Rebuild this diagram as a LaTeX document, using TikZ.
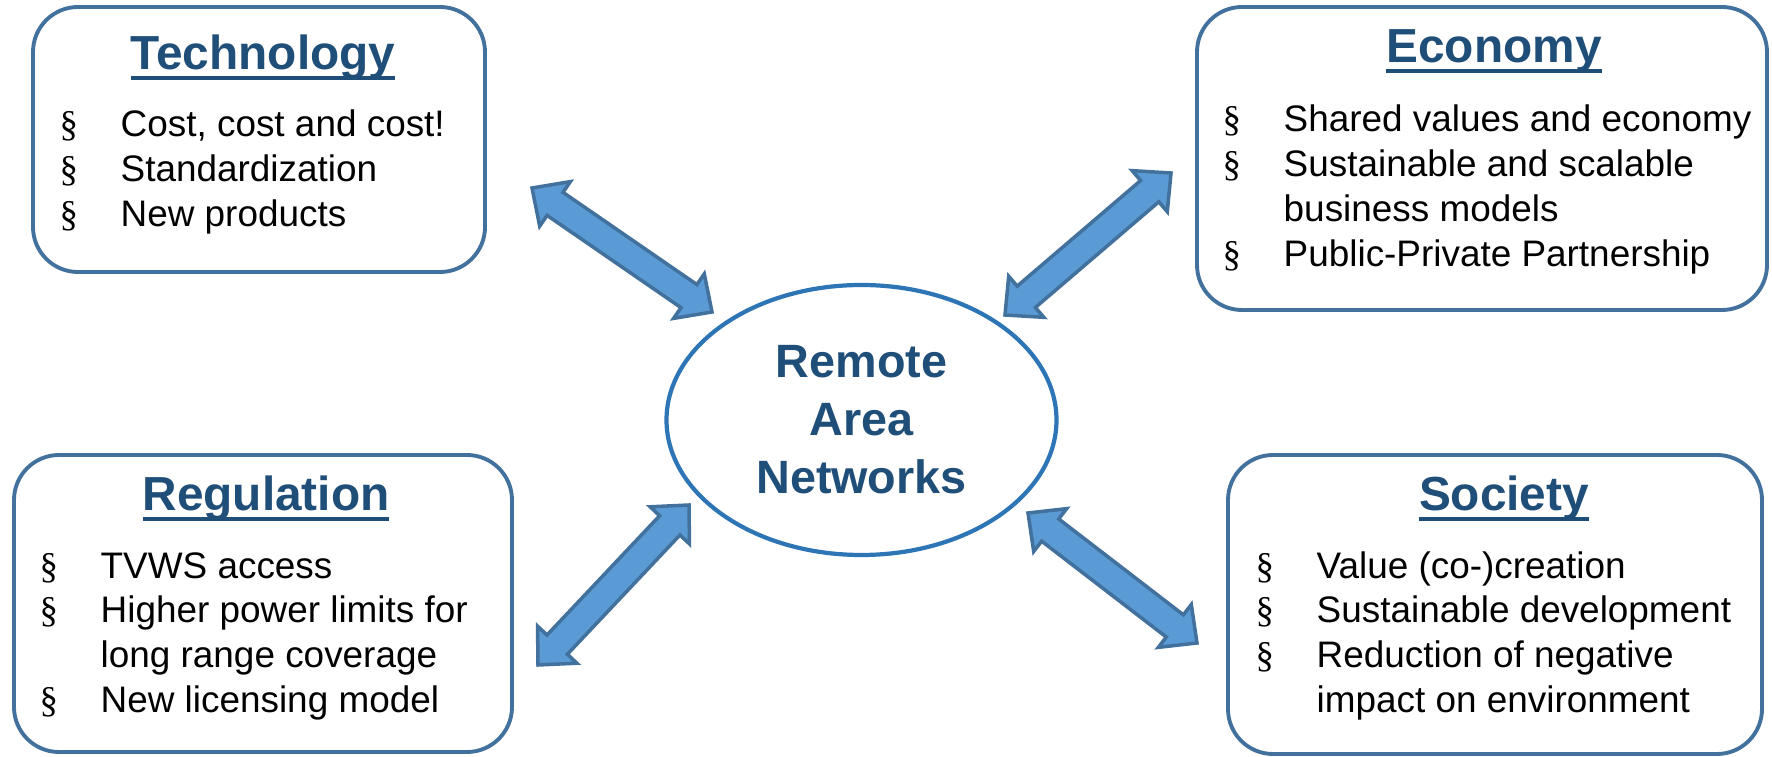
\documentclass[tikz,border=0pt]{standalone}
\usepackage{fontspec}
\setmainfont{Liberation Sans}
\newfontfamily\bulletfont{Liberation Serif}
\usetikzlibrary{calc,shapes.geometric}

\definecolor{boxline}{HTML}{41719C}
\definecolor{titleblue}{HTML}{1F4E79}
\definecolor{hubline}{HTML}{2E75B6}
\definecolor{arrowfill}{HTML}{5B9BD5}

\newcommand{\headline}[1]{\sbox0{#1}\rlap{\rule[-2.85pt]{\wd0}{1.1pt}}\usebox0}
\newcommand{\bul}{{\bulletfont\S}}
% block arrow with two heads between two named points
\newcommand{\twoway}[2]{%
	\draw[twoway] (#1) -- ($(#1)!0.389cm!44:(#2)$) -- ($(#1)!0.313cm!26.57:(#2)$)
	-- ($(#2)!0.313cm!-26.57:(#1)$) -- ($(#2)!0.389cm!-44:(#1)$) -- (#2)
	-- ($(#2)!0.389cm!44:(#1)$) -- ($(#2)!0.313cm!26.57:(#1)$)
	-- ($(#1)!0.313cm!-26.57:(#2)$) -- ($(#1)!0.389cm!-44:(#2)$) -- cycle;}

\tikzset{
	topicbox/.style={shape=rectangle, draw=boxline, line width=1.1pt,
		rounded corners=0.45cm, inner sep=0pt},
	topictitle/.style={anchor=base, inner sep=0pt, text=titleblue,
		font=\fontsize{13.6}{16}\selectfont\bfseries},
	topiclist/.style={anchor=base west, inner sep=0pt,
		font=\fontsize{10.5}{12.8}\selectfont},
	hub/.style={shape=ellipse, draw=hubline, line width=1.2pt, inner sep=0pt,
		align=center, text=titleblue, font=\fontsize{13.3}{16.5}\selectfont\bfseries},
	twoway/.style={draw=boxline, fill=arrowfill, line width=1pt}
}

\begin{document}
\begin{tikzpicture}
	\useasboundingbox (0, 0) rectangle (17.72, 7.56);
	% Centre ellipse:
	\node[hub, minimum width=3.9cm, minimum height=2.7cm]
	(RAN) at (8.615, 3.36){Remote\\Area\\Networks};
	
	% Technology, top left
	\node[topicbox, minimum width=4.52cm, minimum height=2.65cm]
	(Tech) at (2.59, 6.165){};
	\node[topictitle] (TechT) at (2.63, 6.86){\headline{Technology}};
	\node[topiclist] (TechL) at (0.59, 6.19){\begin{tabular}[t]{@{}p{0.61cm}@{}l@{}}
		\bul & Cost, cost and cost!\\
		\bul & Standardization\\
		\bul & New products
	\end{tabular}};
	
	% Economy, top right
	\node[topicbox, minimum width=5.7cm, minimum height=3.03cm]
	(Econ) at (14.82, 5.975){};
	\node[topictitle] (EconT) at (14.94, 6.93){\headline{Economy}};
	\node[topiclist] (EconL) at (12.22, 6.24){\begin{tabular}[t]{@{}p{0.61cm}@{}l@{}}
		\bul & Shared values and economy\\
		\bul & Sustainable and scalable\\
		& business models\\
		\bul & Public-Private Partnership
	\end{tabular}};
	
	% Regulation, bottom left
	\node[topicbox, minimum width=4.98cm, minimum height=2.97cm]
	(Regu) at (2.63, 1.525){};
	\node[topictitle] (ReguT) at (2.66, 2.45){\headline{Regulation}};
	\node[topiclist] (ReguL) at (0.39, 1.78){\begin{tabular}[t]{@{}p{0.61cm}@{}l@{}}
		\bul & TVWS access\\
		\bul & Higher power limits for\\
		& long range coverage\\
		\bul & New licensing model
	\end{tabular}};
	
	% Society, bottom right
	\node[topicbox, minimum width=5.34cm, minimum height=2.99cm]
	(Soc) at (14.95, 1.515){};
	\node[topictitle] (SocT) at (15.04, 2.45){\headline{Society}};
	\node[topiclist] (SocL) at (12.55, 1.78){\begin{tabular}[t]{@{}p{0.61cm}@{}l@{}}
		\bul & Value (co-)creation\\
		\bul & Sustainable development\\
		\bul & Reduction of negative\\
		& impact on environment
	\end{tabular}};
	
	% Arrow ends and arrows
	\coordinate (TL1) at (5.32, 5.68);
	\coordinate (TL2) at (7.12, 4.44);
	\coordinate (TR1) at (11.71, 5.83);
	\coordinate (TR2) at (10.05, 4.41);
	\coordinate (BL1) at (6.89, 2.51);
	\coordinate (BL2) at (5.38, 0.91);
	\coordinate (BR1) at (10.28, 2.43);
	\coordinate (BR2) at (11.97, 1.13);
	\twoway{TL1}{TL2}
	\twoway{TR1}{TR2}
	\twoway{BL1}{BL2}
	\twoway{BR1}{BR2}
\end{tikzpicture}
\end{document}
